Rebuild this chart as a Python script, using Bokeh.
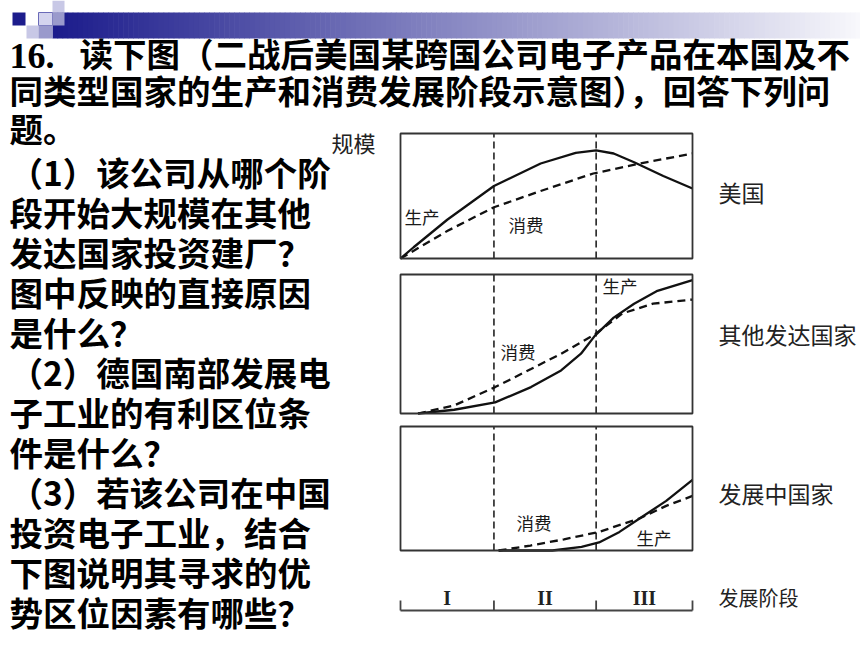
from bokeh.plotting import figure
from bokeh.models import Range1d
from bokeh.embed import file_html
from bokeh.resources import INLINE
from bokeh.core.properties import value

# ---------------- data ----------------
stage_labels = ["I", "II", "III"]
stage_bounds = [0, 32, 67, 100]          # time axis, percent of panel width

us_prod_x = [0, 4.5, 16, 32, 48, 60, 67, 73, 80, 90, 100]
us_prod_y = [0, 9, 31, 58, 76, 84.5, 86.5, 84, 77, 66, 56]
us_cons_x = [0, 16, 32, 48, 66, 82, 100]
us_cons_y = [0, 22, 41, 54, 68, 76, 84]

dev_prod_x = [6, 18.4, 32.4, 44.7, 55, 61.8, 66.6, 73, 80, 87.7, 100]
dev_prod_y = [0, 2.7, 8, 19, 31, 43, 56, 69, 79, 88, 96]
dev_cons_x = [6, 18.4, 32.4, 44.7, 55, 66.6, 76, 86.5, 100]
dev_cons_y = [0, 5.8, 19, 32, 43, 57, 72, 79, 82]

dvg_prod_x = [33.6, 52, 62, 68, 75, 82, 91, 100]
dvg_prod_y = [0, 0, 3, 6.5, 15, 26, 40, 57]
dvg_cons_x = [33.6, 44.5, 56, 68, 82, 91, 100]
dvg_cons_y = [0, 4, 9, 15, 26, 36, 44]

panel_names = ["美国", "其他发达国家", "发展中国家"]

title_lines = ["读下图（二战后美国某跨国公司电子产品在本国及不",
               "同类型国家的生产和消费发展阶段示意图），回答下列问",
               "题。"]
question_lines = ["（1）该公司从哪个阶", "段开始大规模在其他", "发达国家投资建厂？",
                  "图中反映的直接原因", "是什么？", "（2）德国南部发展电",
                  "子工业的有利区位条", "件是什么？", "（3）若该公司在中国",
                  "投资电子工业，结合", "下图说明其寻求的优", "势区位因素有哪些？"]

# ---------------- figure (page pixel coordinates) ----------------
W, H = 860, 645
X0, Y0 = 0, 0
p = figure(width=W, height=H, x_range=Range1d(X0, X0 + W), y_range=Range1d(Y0 + H, Y0),
           output_backend="svg", toolbar_location=None, x_axis_type=None, y_axis_type=None,
           min_border=0)
p.outline_line_color = None
p.xgrid.visible = False
p.ygrid.visible = False
p.background_fill_color = "white"
p.border_fill_color = "white"

CJK = value("Noto Sans CJK SC")

# ---- header decoration ----
n = 160
bx0, bx1 = 52, 860
lefts, rights, cols = [], [], []
for i in range(n):
    a = bx0 + (bx1 - bx0) * i / n
    b = bx0 + (bx1 - bx0) * (i + 1) / n + 0.6
    t = i / (n - 1)
    r = int(28 + (248 - 28) * t)
    g = int(28 + (248 - 28) * t)
    bl = int(140 + (252 - 140) * t)
    lefts.append(a); rights.append(b); cols.append("#%02x%02x%02x" % (r, g, bl))
p.quad(left=lefts, right=rights, top=[12] * n, bottom=[38] * n, fill_color=cols, line_color=None)
p.quad(left=[12], right=[25], top=[12], bottom=[25], fill_color="#1c1c8c", line_color=None)
p.quad(left=[52], right=[64], top=[0], bottom=[12], fill_color="#c8c8e6", line_color=None)
p.quad(left=[38], right=[52], top=[12], bottom=[25], fill_color="#d4d4ee", line_color="#6a6ab8", line_width=1)
p.quad(left=[52], right=[64], top=[12], bottom=[25], fill_color="#9a9acc", line_color=None)
p.quad(left=[26], right=[38], top=[25], bottom=[38], fill_color="#c8c8e6", line_color=None)
p.quad(left=[38], right=[52], top=[25], bottom=[38], fill_color="#9a9acc", line_color=None)

# ---- title / question text ----
p.text(x=[9], y=[55], text=["16."], text_font=value("Liberation Serif"), text_font_style="bold",
       text_font_size="36px", text_baseline="middle", text_align="left", text_color="black")
p.text(x=[79, 9, 9], y=[52, 89, 127], text=title_lines, text_font=CJK, text_font_style="bold",
       text_font_size="33.5px", text_baseline="middle", text_align="left", text_color="black")
qy = [171 + 40 * i for i in range(len(question_lines))]
p.text(x=[9] * len(question_lines), y=qy, text=question_lines, text_font=CJK, text_font_style="bold",
       text_font_size="33.5px", text_baseline="middle", text_align="left", text_color="black")

# ---- panels ----
PX_L, PX_R = 400, 692
kx = (PX_R - PX_L) / 100.0
xs = 0 - (PX_L - X0) / kx
p.extra_x_ranges = {"stage": Range1d(xs, xs + W / kx)}

boxes = [(133, 258), (274, 413), (426, 550)]
curves = [((us_prod_x, us_prod_y), (us_cons_x, us_cons_y)),
          ((dev_prod_x, dev_prod_y), (dev_cons_x, dev_cons_y)),
          ((dvg_prod_x, dvg_prod_y), (dvg_cons_x, dvg_cons_y))]
extra_y = {}
for i, (top, bot) in enumerate(boxes):
    ky = (bot - top) / 100.0
    ys = 0 - (Y0 + H - bot) / ky
    extra_y["panel%d" % i] = Range1d(ys, ys + H / ky)
p.extra_y_ranges = extra_y

for i, (top, bot) in enumerate(boxes):
    yn = "panel%d" % i
    for sb in stage_bounds[1:-1]:
        p.line(x=[sb, sb], y=[0, 100], x_range_name="stage", y_range_name=yn,
               line_color="#222222", line_width=1.6, line_dash="7 4")
    (pxv, pyv), (cxv, cyv) = curves[i]
    p.line(x=cxv, y=cyv, x_range_name="stage", y_range_name=yn,
           line_color="#111111", line_width=2.3, line_dash="8 5")
    p.line(x=pxv, y=pyv, x_range_name="stage", y_range_name=yn,
           line_color="#111111", line_width=2.3)
    p.quad(left=[0], right=[100], bottom=[0], top=[100], x_range_name="stage", y_range_name=yn,
           fill_color=None, line_color="#333333", line_width=1.8)

# curve labels
p.text(x=[404, 508, 602, 500, 516, 636], y=[216, 224, 285, 351, 522, 537],
       text=["生产", "消费", "生产", "消费", "消费", "生产"], text_font=CJK,
       text_font_size="17.5px", text_baseline="middle", text_align="left", text_color="#1a1a1a")

# country labels
p.text(x=[718, 718, 718], y=[191, 333, 492], text=panel_names, text_font=CJK,
       text_font_size="23px", text_baseline="middle", text_align="left", text_color="#222222")
p.text(x=[331], y=[141], text=["规模"], text_font=CJK, text_font_size="22px",
       text_baseline="middle", text_align="left", text_color="#222222")

# ---- stage axis ----
p.line(x=[stage_bounds[0], stage_bounds[-1]], y=[610, 610], x_range_name="stage",
       line_color="#444444", line_width=1.8)
for sb in stage_bounds:
    p.line(x=[sb, sb], y=[600, 610], x_range_name="stage", line_color="#444444", line_width=1.8)
mids = [(stage_bounds[i] + stage_bounds[i + 1]) / 2 for i in range(len(stage_labels))]
p.text(x=mids, y=[597] * 3, text=stage_labels, x_range_name="stage",
       text_font=value("Liberation Serif"), text_font_style="bold", text_font_size="20px",
       text_baseline="middle", text_align="center", text_color="#222222")
p.text(x=[718], y=[597], text=["发展阶段"], text_font=CJK, text_font_size="20px",
       text_baseline="middle", text_align="left", text_color="#222222")

open("out.html", "w").write(file_html(p, INLINE))
